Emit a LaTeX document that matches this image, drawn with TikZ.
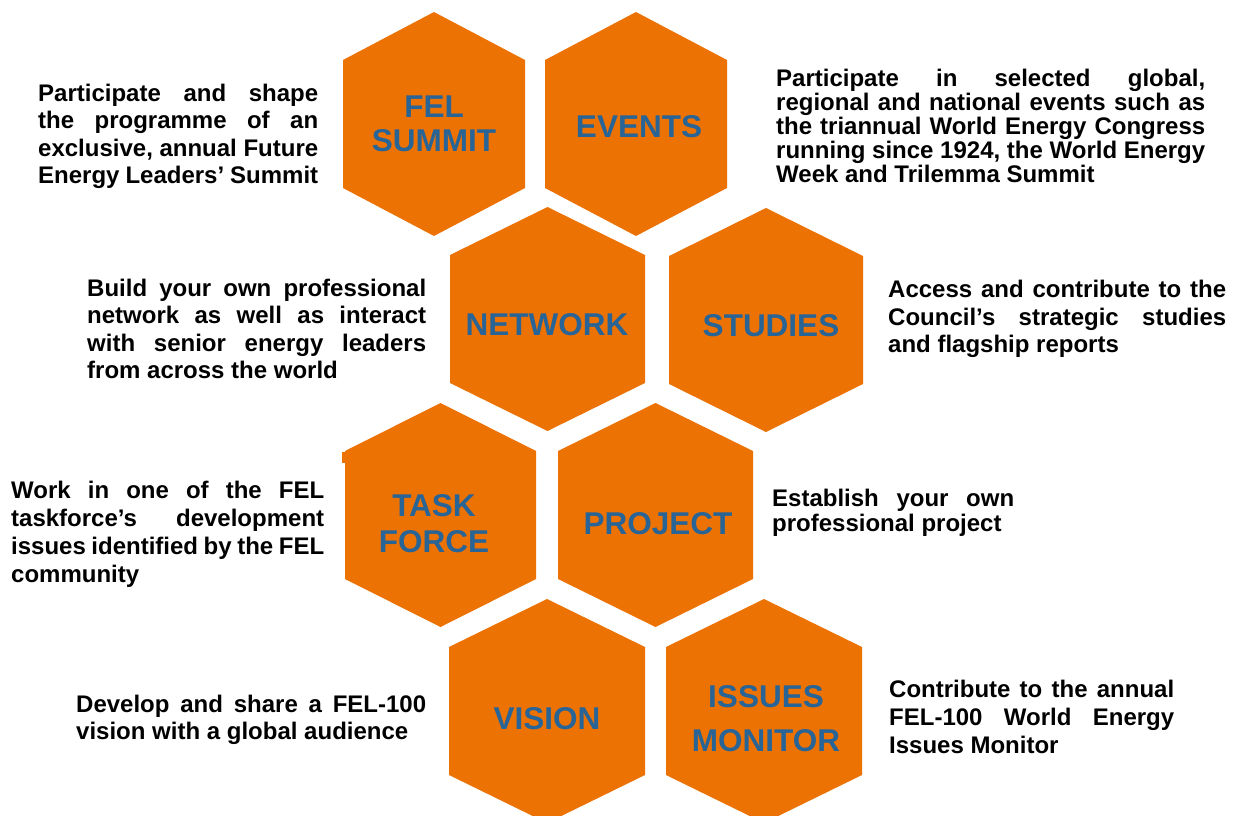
\documentclass[tikz,border=0pt]{standalone}
\usepackage{fontspec}
\setmainfont{Liberation Sans}
\usetikzlibrary{calc}
\definecolor{felorange}{RGB}{237,114,4}
\definecolor{felblue}{RGB}{40,100,150}

\begin{document}
\begin{tikzpicture}[x=1pt,y=-1pt,
  cell/.style={fill=felorange},
  hexlabel/.style={
    align=center,
    inner sep=0pt,
    text=felblue,
    font=\bfseries\fontsize{31.5}{34}\selectfont},
  desc/.style={
    anchor=north west,
    inner sep=0pt,
    align=justify,
    font=\bfseries\fontsize{24}{#1}\selectfont},
  desc/.default=27.3,
  ]
  \useasboundingbox (0,0) rectangle (1237,816);

  % honeycomb, row by row
  \fill[cell] (434,12) -- ++(91,48) -- ++(0,128) -- ++(-91,48) -- ++(-91,-48) -- ++(0,-128) -- cycle;
  \fill[cell] (636,12) -- ++(91,48) -- ++(0,128) -- ++(-91,48) -- ++(-91,-48) -- ++(0,-128) -- cycle;

  \fill[cell] (547.5,207) -- ++(97.5,48) -- ++(0,128) -- ++(-97.5,48) -- ++(-97.5,-48) -- ++(0,-128) -- cycle;
  \fill[cell] (766,208) -- ++(97,48) -- ++(0,128) -- ++(-97,48) -- ++(-97,-48) -- ++(0,-128) -- cycle;

  \fill[cell] (440.5,403) -- ++(95.5,48) -- ++(0,128) -- ++(-95.5,48) -- ++(-95.5,-48) -- ++(0,-128) -- cycle;
  \fill[cell] (342,452) rectangle (346,463);
  \fill[cell] (655.5,403) -- ++(97.5,48) -- ++(0,128) -- ++(-97.5,48) -- ++(-97.5,-48) -- ++(0,-128) -- cycle;

  \fill[cell] (547,599) -- ++(98,48) -- ++(0,128) -- ++(-98,48) -- ++(-98,-48) -- ++(0,-128) -- cycle;
  \fill[cell] (764,599) -- ++(98,48) -- ++(0,128) -- ++(-98,48) -- ++(-98,-48) -- ++(0,-128) -- cycle;

  % labels in the cells
  \node (FelSummit) [hexlabel] at(434,123.5) {FEL\\SUMMIT};
  \node (Events) [hexlabel] at(639,127) {EVENTS};
  \node (Network) [hexlabel] at(547,325) {NETWORK};
  \node (Studies) [hexlabel] at(771,326) {STUDIES};
  \node (TaskForce) [hexlabel] at(434,523.5) {TASK\\[2pt]FORCE};
  \node (Project) [hexlabel] at(658,523.5) {PROJECT};
  \node (Vision) [hexlabel] at(547,718.5) {VISION};
  \node (IssuesMon) [hexlabel] at(766,718.5) {ISSUES\\[10pt]MONITOR};

  % descriptions
  \node (FelSummitTxt) [desc, text width=280pt] at(38,84) {Participate and shape\linebreak the programme of an\linebreak exclusive, annual Future\linebreak Energy Leaders’ Summit};

  \node (EventsTxt) [desc=24, text width=429pt] at(776,69) {Participate in selected global,\linebreak regional and national events such as\linebreak the triannual World Energy Congress\linebreak running since 1924, the World Energy\linebreak Week and Trilemma Summit};

  \node (NetworkTxt) [desc, text width=339pt] at(87,279) {Build your own professional\linebreak network as well as interact\linebreak with senior energy leaders\linebreak from across the world};

  \node (StudiesTxt) [desc=27.5, text width=338pt] at(888,280) {Access and contribute to the\linebreak Council’s strategic studies\linebreak and flagship reports};

  \node (TaskForceTxt) [desc=28, text width=313pt] at(11,481) {Work in one of the FEL\linebreak taskforce’s development\linebreak issues identified by the FEL\linebreak community};

  \node (ProjectTxt) [desc=25, text width=242pt] at(772,489) {Establish your own\linebreak professional project};

  \node (VisionTxt) [desc=27, text width=350pt] at(76,695) {Develop and share a FEL-100\linebreak vision with a global audience};

  \node (IssuesMonTxt) [desc=28, text width=285pt] at(889,680) {Contribute to the annual\linebreak FEL-100 World Energy\linebreak Issues Monitor};

\end{tikzpicture}
\end{document}
